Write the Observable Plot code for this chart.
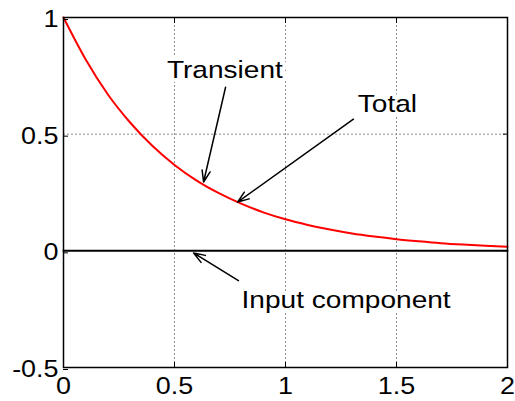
<!DOCTYPE html>
<html><head><meta charset="utf-8">
<script src="https://cdn.jsdelivr.net/npm/d3@7"></script>
<script src="https://cdn.jsdelivr.net/npm/@observablehq/plot@0.6"></script>
<style>body{margin:0;background:#fff} #chart{width:515px;height:401px}</style>
</head><body><div id="chart"></div>
<script>
// Total response (red)
const time  = [0, 0.1, 0.2, 0.3, 0.4, 0.5, 0.6, 0.7, 0.8, 0.9, 1.0, 1.1, 1.2, 1.3, 1.4, 1.5, 1.6, 1.7, 1.8, 1.9, 2.0];
const total = [1.0, 0.82, 0.67, 0.55, 0.45, 0.368, 0.301, 0.247, 0.202, 0.165, 0.135, 0.111, 0.091, 0.074, 0.061, 0.05, 0.041, 0.033, 0.027, 0.022, 0.018];
// Input component (black)
const inputTime  = [0, 2];
const inputValue = [0, 0];
// Ticks
const xTicks = [0, 0.5, 1, 1.5, 2];
const xTickLabels = ["0", "0.5", "1", "1.5", "2"];
const yTicks = [-0.5, 0, 0.5, 1];
const yTickLabels = ["-0.5", "0", "0.5", "1"];
const xGrid = [0.5, 1, 1.5];
const yGrid = [0.5];
// Annotations (data coordinates)
const labels = ["Transient", "Total", "Input component"];
const labelX = [0.727, 1.459, 1.273];
const labelY = [0.772, 0.628, -0.214];
const arrowFromX = [0.730, 1.306, 0.788];
const arrowFromY = [0.701, 0.564, -0.128];
const arrowToX = [0.631, 0.784, 0.586];
const arrowToY = [0.295, 0.209, -0.009];

const curveData = time.map((t, i) => ({t, v: total[i]}));
const inputData = inputTime.map((t, i) => ({t, v: inputValue[i]}));
const labelData = labels.map((s, i) => ({s, x: labelX[i], y: labelY[i]}));
const arrowData = labels.map((s, i) => ({x1: arrowFromX[i], y1: arrowFromY[i], x2: arrowToX[i], y2: arrowToY[i]}));

const plot = Plot.plot({
  width: 515, height: 401,
  marginLeft: 63, marginRight: 8, marginTop: 17, marginBottom: 34,
  style: {fontFamily: "'Liberation Sans', Arial, sans-serif", fontSize: "23px", background: "white", color: "black"},
  x: {domain: [0, 2], label: null},
  y: {domain: [-0.5, 1], label: null},
  marks: [
    Plot.gridX(xGrid, {stroke: "#8c8c8c", strokeOpacity: 1, strokeDasharray: "2,2", strokeWidth: 1}),
    Plot.gridY(yGrid, {stroke: "#8c8c8c", strokeOpacity: 1, strokeDasharray: "2,2", strokeWidth: 1}),
    Plot.line(inputData, {x: "t", y: "v", stroke: "black", strokeWidth: 2}),
    Plot.line(curveData, {x: "t", y: "v", stroke: "red", strokeWidth: 2, curve: "monotone-x"}),
    Plot.text(labelData, {x: "x", y: "y", text: "s", fontSize: 24, fill: "black", stroke: "white", strokeWidth: 8}),
    Plot.arrow(arrowData, {x1: "x1", y1: "y1", x2: "x2", y2: "y2", stroke: "black", strokeWidth: 1.5, headLength: 12, headAngle: 40}),
    Plot.frame({stroke: "black", strokeWidth: 1.5}),
    Plot.axisX(xTicks, {anchor: "bottom", tickSize: -5, tickPadding: 15, tickFormat: d => xTickLabels[xTicks.indexOf(d)], stroke: "black"}),
    Plot.axisX(xTicks, {anchor: "top", tickSize: -5, tickFormat: () => "", stroke: "black"}),
    Plot.axisY(yTicks, {anchor: "left", tickSize: -5, tickPadding: 10, dy: 2, tickFormat: d => yTickLabels[yTicks.indexOf(d)], stroke: "black"}),
    Plot.axisY(yTicks, {anchor: "right", tickSize: -5, tickFormat: () => "", stroke: "black"})
  ]
});

// widen glyphs horizontally like the reference rendering
d3.select(plot).selectAll("text").each(function() {
  const t = this.getAttribute("transform");
  if (t && t.includes("translate")) this.setAttribute("transform", t + " scale(1.17,1)");
});

document.getElementById("chart").appendChild(plot);
</script>
</body></html>
